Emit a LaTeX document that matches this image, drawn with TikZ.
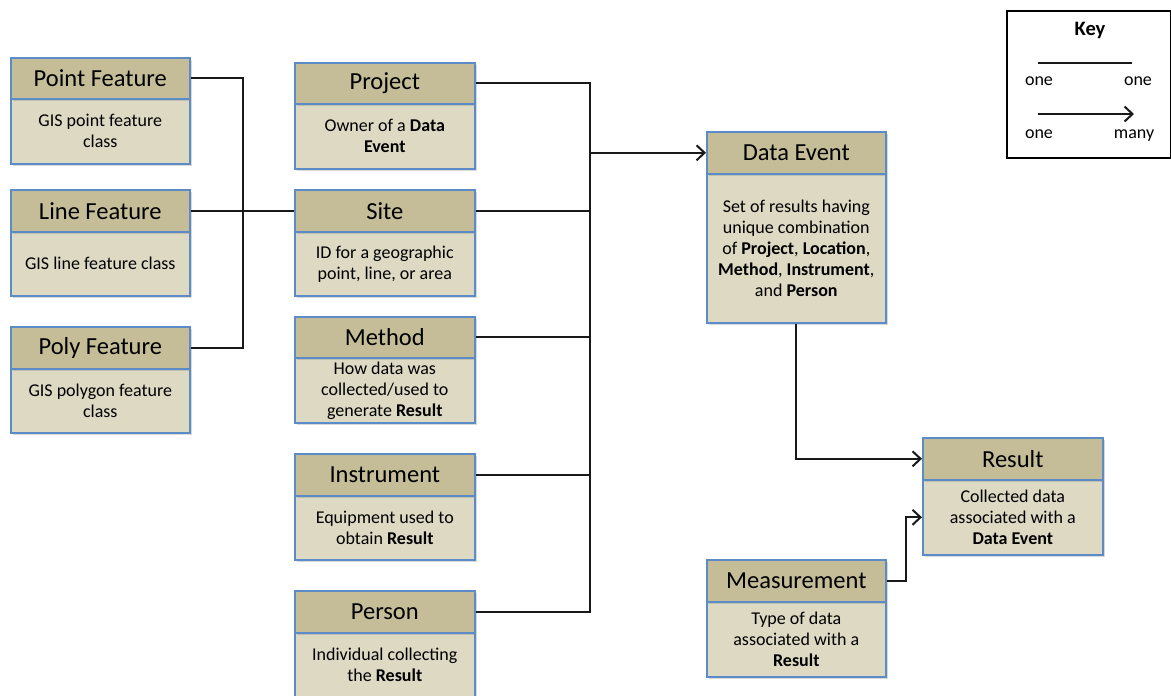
\documentclass[tikz,border=0pt]{standalone}
\usepackage{fontspec}
\setmainfont{Carlito}
\usetikzlibrary{shadows,arrows.meta}
\definecolor{hdrfill}{HTML}{C4BD97}
\definecolor{bodyfill}{HTML}{DDD9C3}
\definecolor{edge}{HTML}{5B8CC8}
\begin{document}
\begin{tikzpicture}[x=1pt,y=-1pt,
  boxbase/.style={draw=edge, line width=1.6pt, anchor=north west, inner sep=0pt, align=center,
     drop shadow={shadow xshift=2pt, shadow yshift=-2pt, opacity=0.3}},
  hdr/.style={boxbase, fill=hdrfill, font=\fontsize{24.5}{28}\selectfont},
  bdy/.style={boxbase, fill=bodyfill, font=\fontsize{18}{21}\selectfont},
  conn/.style={line width=2pt, black!90},
  arr/.style={conn, -{Straight Barb[length=8pt,width=15pt,line width=2pt]}},
  keytxt/.style={font=\fontsize{18}{20}\selectfont, inner sep=0pt, anchor=base}
]
\useasboundingbox (0,0) rectangle (1171,696);
% left column
\node[bdy, minimum width=179, minimum height=65] (pointB) at (10,98) {GIS point feature\\class};
\node[hdr, minimum width=179, minimum height=41] (pointH) at (10,57) {Point Feature};
\node[bdy, minimum width=179, minimum height=64] (lineB) at (10,231) {GIS line feature class};
\node[hdr, minimum width=179, minimum height=42] (lineH) at (10,189) {Line Feature};
\node[bdy, minimum width=179, minimum height=64] (polyB) at (10,368) {GIS polygon feature\\class};
\node[hdr, minimum width=179, minimum height=42] (polyH) at (10,326) {Poly Feature};
% middle column
\node[bdy, minimum width=180, minimum height=65] (projB) at (294,103) {Owner of a \textbf{Data}\\\textbf{Event}};
\node[hdr, minimum width=180, minimum height=41] (projH) at (294,62) {Project};
\node[bdy, minimum width=180, minimum height=64] (siteB) at (294,231) {ID for a geographic\\point, line, or area};
\node[hdr, minimum width=180, minimum height=42] (siteH) at (294,189) {Site};
\node[bdy, minimum width=180, minimum height=65] (methB) at (294,357) {How data was\\collected/used to\\generate \textbf{Result}};
\node[hdr, minimum width=180, minimum height=41] (methH) at (294,316) {Method};
\node[bdy, minimum width=180, minimum height=64] (instB) at (294,495) {Equipment used to\\obtain \textbf{Result}};
\node[hdr, minimum width=180, minimum height=42] (instH) at (294,453) {Instrument};
\node[bdy, minimum width=180, minimum height=64] (persB) at (294,632) {Individual collecting\\the \textbf{Result}};
\node[hdr, minimum width=180, minimum height=42] (persH) at (294,590) {Person};
% right
\node[bdy, minimum width=179, minimum height=149] (deB) at (706,173) {Set of results having\\unique combination\\of \textbf{Project}, \textbf{Location},\\\textbf{Method}, \textbf{Instrument},\\and \textbf{Person}};
\node[hdr, minimum width=179, minimum height=42] (deH) at (706,131) {Data Event};
\node[bdy, minimum width=180, minimum height=75] (resB) at (922,479) {Collected data\\associated with a\\\textbf{Data Event}};
\node[hdr, minimum width=180, minimum height=42] (resH) at (922,437) {Result};
\node[bdy, minimum width=179, minimum height=75] (measB) at (706,601) {Type of data\\associated with a\\\textbf{Result}};
\node[hdr, minimum width=179, minimum height=42] (measH) at (706,559) {Measurement};
% connectors left
\draw[conn] (pointH.east) -- ++(52,0) coordinate (pv) |- (polyH.east);
\draw[conn] (lineH.east) -- (siteH.west);
% bus
\coordinate (bt) at (590,83);
\draw[conn] (projH.east) -- (projH.east -| bt) -- (persH.east -| bt) -- (persH.east);
\draw[conn] (siteH.east) -- (siteH.east -| bt);
\draw[conn] (methH.east) -- (methH.east -| bt);
\draw[conn] (instH.east) -- (instH.east -| bt);
\draw[arr] (deH.west -| bt) -- (deH.west);
\draw[arr] (deB.south) |- (resH.west);
\draw[arr] (measH.east) -- ++(19,0) |- (resB.west);
% key
\node[draw=black, line width=1.5pt, anchor=north west, minimum width=164, minimum height=147, inner sep=0pt] (key) at (1006,10) {};
\node[keytxt, font=\fontsize{20.5}{22}\selectfont\bfseries] (keyT) at (1090,35) {Key};
\coordinate (k1a) at (1038,63);
\coordinate (k1b) at (1132,63);
\draw[conn] (k1a) -- (k1b);
\node[keytxt] (k1l) at (1039,85) {one};
\node[keytxt] (k1r) at (1138,85) {one};
\coordinate (k2a) at (1038,114);
\coordinate (k2b) at (1134,114);
\draw[arr] (k2a) -- (k2b);
\node[keytxt] (k2l) at (1039,138) {one};
\node[keytxt] (k2r) at (1134,138) {many};
\end{tikzpicture}
\end{document}
